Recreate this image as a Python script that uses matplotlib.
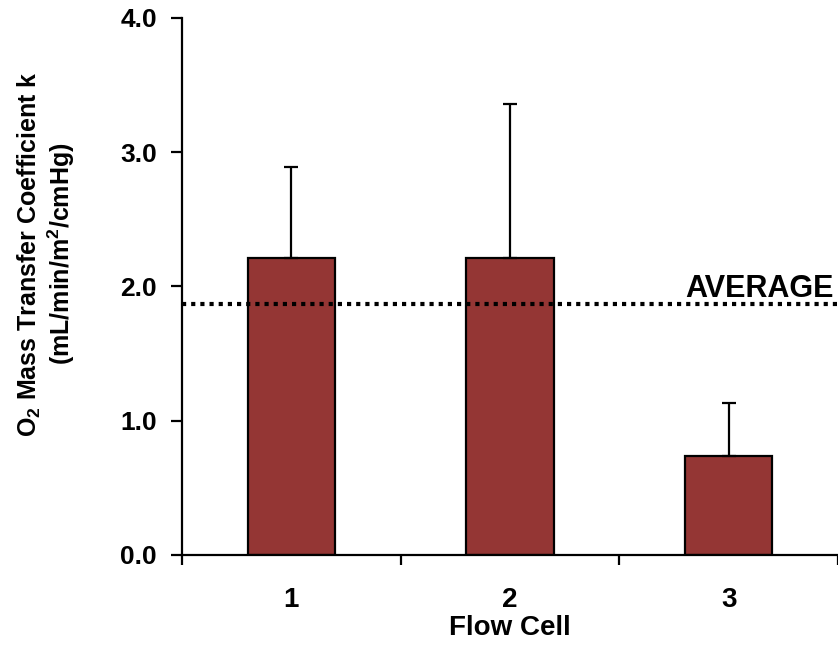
import matplotlib
matplotlib.use("Agg")
import matplotlib.pyplot as plt
import numpy as np

categories = ["1", "2", "3"]
values = [2.21, 2.21, 0.74]
err_plus = [0.68, 1.15, 0.39]
average = 1.87
yticks = [0.0, 1.0, 2.0, 3.0, 4.0]

plt.rcParams['font.family'] = ['Liberation Sans', 'DejaVu Sans']
plt.rcParams['font.weight'] = 'bold'
plt.rcParams['mathtext.fontset'] = 'custom'
plt.rcParams['mathtext.rm'] = 'Liberation Sans:bold'
plt.rcParams['mathtext.bf'] = 'Liberation Sans:bold'
plt.rcParams['mathtext.it'] = 'Liberation Sans:bold'
plt.rcParams['mathtext.default'] = 'bf'

fig = plt.figure(figsize=(8.38, 6.55), dpi=100)
ax = fig.add_axes([182/838, 100/655, 1 - 182/838, (555-18)/655])

x = np.arange(1, len(categories) + 1)
ax.bar(x, values, width=0.4, color='#943634', edgecolor='black', linewidth=1.6, zorder=2)
ax.errorbar(x, values, yerr=[np.zeros(len(values)), err_plus], fmt='none',
            ecolor='black', elinewidth=1.6, capsize=4.7, capthick=1.6, zorder=3)

ax.axhline(average, color='black', linewidth=3.0, linestyle=(0, (1.0, 1.2)),
           dash_capstyle='butt', zorder=4)
ax.text(0.993, average + 0.05, "AVERAGE", transform=ax.get_yaxis_transform(),
        ha='right', va='baseline', fontsize=22, fontweight='bold', zorder=5)

ax.set_xlim(0.5, len(categories) + 0.5)
ax.set_ylim(0, 4.0)
ax.set_yticks(yticks)
ax.set_yticklabels([f"{v:.1f}" for v in yticks], fontsize=19, fontweight='bold')
ax.set_xticks(np.arange(0.5, len(categories) + 1, 1.0))
ax.set_xticklabels([])
ax.set_xticks(x, minor=True)
ax.set_xticklabels(categories, minor=True, fontsize=20, fontweight='bold')
ax.tick_params(axis='x', which='minor', length=0, pad=23)
ax.tick_params(axis='x', which='major', direction='out', length=7, width=1.6)
ax.tick_params(axis='y', direction='out', length=8, width=1.6, pad=10)

for s in ['top', 'right']:
    ax.spines[s].set_visible(False)
for s in ['left', 'bottom']:
    ax.spines[s].set_linewidth(1.6)

fig.text(510/838, 1 - 628/655, "Flow Cell", ha='center', va='center',
         fontsize=20, fontweight='bold')
fig.text(29/838, 1 - 254/655, "O$_2$ Mass Transfer Coefficient k", rotation=90,
         ha='center', va='center', fontsize=18, fontweight='bold')
fig.text(61/838, 1 - 254/655, "(mL/min/m$^2$/cmHg)", rotation=90,
         ha='center', va='center', fontsize=18, fontweight='bold')

fig.savefig("out.png", dpi=100)
